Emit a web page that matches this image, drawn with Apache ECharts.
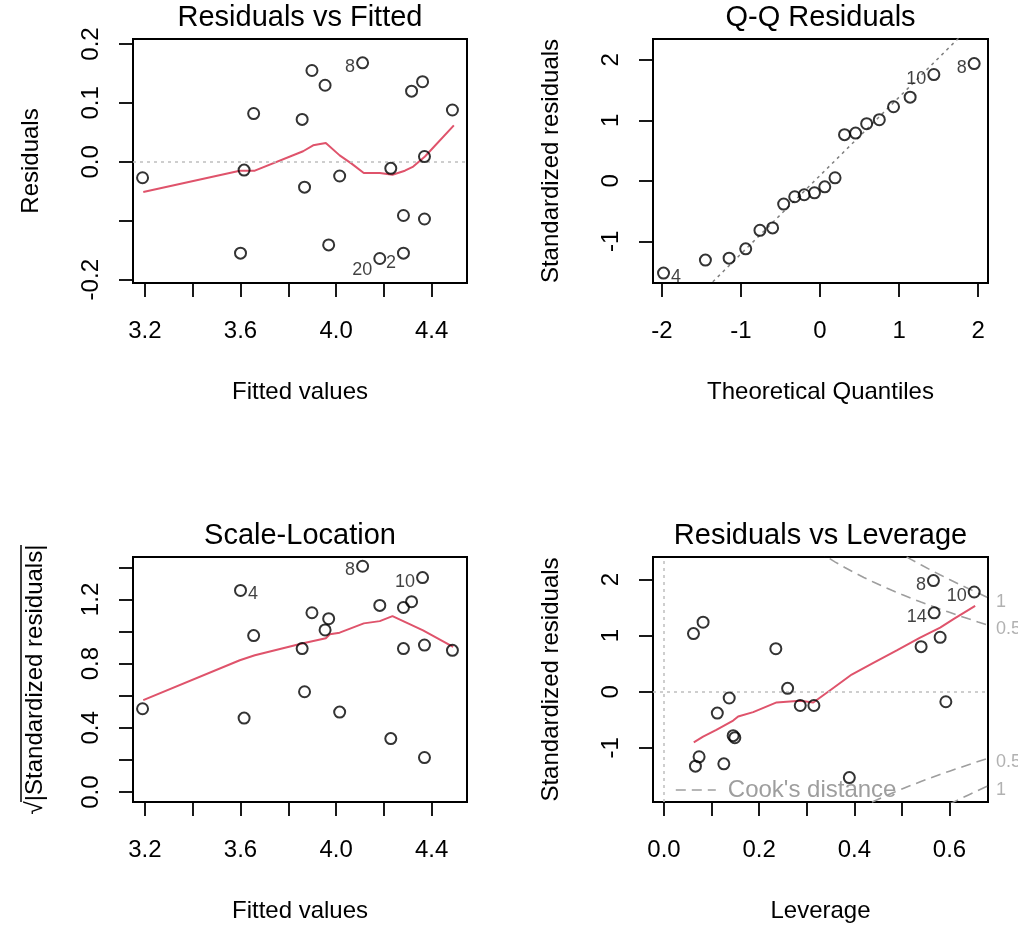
<!DOCTYPE html>
<html>
<head>
<meta charset="utf-8">
<title>lm diagnostics</title>
<script src="https://cdn.jsdelivr.net/npm/echarts@6/dist/echarts.min.js"></script>
<style>
  html, body { margin: 0; padding: 0; background: #fff; }
  #chart { width: 1018px; height: 926px; }
</style>
</head>
<body>
<div id="chart"></div>
<script>
// values
const fitted = [3.19, 3.60, 3.615, 3.655, 3.858, 3.868, 3.899, 3.954, 3.969, 4.015, 4.111, 4.183, 4.229, 4.282, 4.282, 4.316, 4.362, 4.37, 4.37, 4.487]
const residuals = [-0.027, -0.155, -0.014, 0.082, 0.072, -0.043, 0.155, 0.130, -0.141, -0.024, 0.168, -0.164, -0.011, -0.091, -0.155, 0.120, 0.136, 0.009, -0.097, 0.088]
const sqrtStdResid = [0.519, 1.256, 0.461, 0.975, 0.894, 0.625, 1.117, 1.01, 1.08, 0.498, 1.407, 1.163, 0.333, 1.15, 0.894, 1.186, 1.336, 0.215, 0.916, 0.883]

const qqTheo = [-1.98, -1.45, -1.15, -0.94, -0.76, -0.60, -0.46, -0.32, -0.20, -0.07, 0.06, 0.19, 0.31, 0.45, 0.59, 0.75, 0.93, 1.14, 1.44, 1.95]
const qqStd = [-1.526, -1.311, -1.279, -1.125, -0.818, -0.779, -0.384, -0.263, -0.23, -0.198, -0.099, 0.05, 0.764, 0.79, 0.945, 1.011, 1.225, 1.384, 1.758, 1.939]
const qqLineEnds = [[-2.3, -2.893], [2.3, 3.069]]

const leverage = [0.0619, 0.0821, 0.066, 0.0737, 0.112, 0.1257, 0.137, 0.1453, 0.1488, 0.235, 0.2598, 0.2863, 0.315, 0.3895, 0.5404, 0.5663, 0.5678, 0.5804, 0.5924, 0.652]
const stdResid = [1.036, 1.239, -1.325, -1.158, -0.38, -1.284, -0.111, -0.781, -0.818, 0.767, 0.061, -0.244, -0.244, -1.528, 0.803, 1.98, 1.406, 0.97, -0.178, 1.777]

// lowess smooths (red)
const rvfSmooth = [[3.193, -0.051], [3.597, -0.015], [3.66, -0.015], [3.862, 0.018], [3.904, 0.028], [3.957, 0.032], [4.015, 0.011], [4.065, -0.003], [4.116, -0.019], [4.183, -0.019], [4.236, -0.022], [4.288, -0.015], [4.323, -0.008], [4.372, 0.009], [4.493, 0.062]]
const slSmooth = [[3.193, 0.573], [3.597, 0.821], [3.66, 0.852], [3.862, 0.927], [3.957, 0.958], [3.974, 0.983], [4.015, 0.993], [4.116, 1.051], [4.183, 1.065], [4.236, 1.096], [4.364, 1.007], [4.49, 0.904]]
const rvlSmooth = [[0.0625, -0.9], [0.0821, -0.8], [0.11, -0.68], [0.1453, -0.513], [0.1558, -0.441], [0.1874, -0.363], [0.2366, -0.19], [0.2857, -0.16], [0.3137, -0.19], [0.3558, 0.068], [0.3945, 0.307], [0.44, 0.516], [0.4893, 0.737], [0.5383, 0.964], [0.5804, 1.144], [0.6084, 1.293], [0.654, 1.531]]

// Cook's distance contours
const cookH = [0.32, 0.34, 0.36, 0.38, 0.40, 0.42, 0.44, 0.46, 0.48, 0.50, 0.52, 0.54, 0.56, 0.58, 0.60, 0.62, 0.64, 0.66, 0.68]
const cookHalf = [2.525, 2.413, 2.309, 2.212, 2.121, 2.035, 1.954, 1.877, 1.803, 1.732, 1.664, 1.599, 1.535, 1.474, 1.414, 1.356, 1.299, 1.243, 1.188]
const cookOne = [3.571, 3.413, 3.266, 3.129, 3.0, 2.878, 2.763, 2.654, 2.55, 2.449, 2.353, 2.261, 2.171, 2.084, 2.0, 1.917, 1.837, 1.758, 1.680]
const cookLevels = ['1', '0.5']
const cookAty = [1.676, 1.185]

// labelled observations: [index, id]
const rvfIds = [[10, '8'], [11, '20'], [14, '2']]
const qqIds = [[0, '4'], [18, '10'], [19, '8']]
const slIds = [[1, '4'], [10, '8'], [16, '10']]
const rvlIds = [[15, '8'], [16, '14'], [19, '10']]

// axis ticks / labels
const fitTicks = [3.2, 3.4, 3.6, 3.8, 4.0, 4.2, 4.4]
const fitLabels = [3.2, 3.6, 4.0, 4.4]
const resTicks = [-0.2, -0.1, 0, 0.1, 0.2]
const resLabels = [-0.2, 0, 0.1, 0.2]
const qqXTicks = [-2, -1, 0, 1, 2]
const stdTicks = [-1, 0, 1, 2]
const slTicks = [0, 0.2, 0.4, 0.6, 0.8, 1.0, 1.2, 1.4]
const slLabels = [0, 0.4, 0.8, 1.2]
const levTicks = [0, 0.1, 0.2, 0.3, 0.4, 0.5, 0.6]
const levLabels = [0, 0.2, 0.4, 0.6]

const FONT = 'Liberation Sans, Arial, Helvetica, sans-serif'
const RED = '#DF536B'
const COOK = '#9e9e9e'
const f1 = (v) => v.toFixed(1)
const f0 = (v) => String(v)

const chart = echarts.init(document.getElementById('chart'))

function points(xs, ys, ids, nudge = {}) {
  const mid = (Math.min(...xs) + Math.max(...xs)) / 2
  return xs.map((x, i) => {
    const item = { value: [x, ys[i]] }
    const id = ids.find((d) => d[0] === i)
    if (id) {
      item.label = {
        show: true,
        formatter: id[1],
        position: x > mid ? 'left' : 'right',
        distance: 1,
        offset: [0, nudge[i] ?? 4]
      }
    }
    return item
  })
}

function xAxis(gridIndex, min, max, ticks, labels, fmt, name) {
  return {
    type: 'value', gridIndex, min, max, name,
    nameLocation: 'middle', nameGap: 97,
    nameTextStyle: { fontSize: 24, color: '#000', fontFamily: FONT },
    axisLine: { show: true, onZero: false, lineStyle: { color: '#000', width: 2 } },
    axisTick: { show: true, length: 14, customValues: ticks, lineStyle: { color: '#000', width: 1.8 } },
    axisLabel: { customValues: labels, formatter: fmt, fontSize: 24, color: '#000', margin: 36, fontFamily: FONT, hideOverlap: false },
    splitLine: { show: false }
  }
}

function yAxis(gridIndex, min, max, ticks, labels, fmt, name, nameGap = 90) {
  return {
    type: 'value', gridIndex, min, max, name,
    nameLocation: 'middle', nameGap,
    nameTextStyle: { fontSize: 24, color: '#000', fontFamily: FONT },
    axisLine: { show: true, onZero: false, lineStyle: { color: '#000', width: 2 } },
    axisTick: { show: true, length: 14, customValues: ticks, lineStyle: { color: '#000', width: 1.8 } },
    axisLabel: { customValues: labels, formatter: fmt, rotate: 90, fontSize: 24, color: '#000', margin: 30, fontFamily: FONT, hideOverlap: false },
    splitLine: { show: false }
  }
}

const dotted = { type: [3, 4], color: '#bebebe', width: 1.5 }

function scatter(i, data, lines) {
  const s = {
    type: 'scatter', xAxisIndex: i, yAxisIndex: i, data,
    symbol: 'circle', symbolSize: 11,
    itemStyle: { color: 'rgba(0,0,0,0)', borderColor: '#000', borderWidth: 2 },
    label: { fontSize: 18, color: '#111', fontFamily: FONT },
    z: 5
  }
  if (lines) {
    s.markLine = { silent: true, symbol: ['none', 'none'], label: { show: false }, lineStyle: dotted, data: lines, animation: false }
  }
  return s
}

function smooth(i, data) {
  return { type: 'line', xAxisIndex: i, yAxisIndex: i, data, symbol: 'none', lineStyle: { color: RED, width: 2 }, z: 4 }
}

const cookStyle = { type: [10, 6], color: COOK, width: 1.6 }
const cookSeries = [cookHalf, cookOne].flatMap((vals) => [1, -1].map((sign) => ({
  name: "Cook's distance",
  type: 'line', xAxisIndex: 3, yAxisIndex: 3,
  data: cookH.map((h, k) => [h, sign * vals[k]]),
  symbol: 'none', lineStyle: cookStyle, itemStyle: { color: COOK }, z: 3
})))

const cookLabelData = []
cookLevels.forEach((lv, k) => {
  cookLabelData.push({ value: [0.681, cookAty[k]], label: { formatter: lv } })
  cookLabelData.push({ value: [0.681, -cookAty[k]], label: { formatter: lv } })
})

const titleStyle = { fontSize: 29, fontWeight: 'normal', color: '#000', fontFamily: FONT }

chart.setOption({
  animation: false,
  backgroundColor: '#fff',
  title: [
    { text: 'Residuals vs Fitted', left: 300, top: 3, textAlign: 'center', padding: 0, textStyle: titleStyle },
    { text: 'Q-Q Residuals', left: 820.5, top: 3, textAlign: 'center', padding: 0, textStyle: titleStyle },
    { text: 'Scale-Location', left: 300, top: 521, textAlign: 'center', padding: 0, textStyle: titleStyle },
    { text: 'Residuals vs Leverage', left: 820.5, top: 521, textAlign: 'center', padding: 0, textStyle: titleStyle }
  ],
  legend: {
    left: 675, top: 778, padding: 0, itemWidth: 40, itemHeight: 14,
    selectedMode: false,
    data: ["Cook's distance"],
    itemStyle: { opacity: 0 },
    lineStyle: { type: [10, 6], color: COOK, width: 1.6 },
    textStyle: { fontSize: 24, color: COOK, fontFamily: FONT, padding: [0, 0, 0, 7] }
  },
  grid: [
    { left: 133, top: 39, width: 334, height: 244, show: true, borderColor: '#000', borderWidth: 2 },
    { left: 653, top: 39, width: 335, height: 244, show: true, borderColor: '#000', borderWidth: 2 },
    { left: 133, top: 557, width: 334, height: 245, show: true, borderColor: '#000', borderWidth: 2 },
    { left: 653, top: 557, width: 335, height: 245, show: true, borderColor: '#000', borderWidth: 2 }
  ],
  xAxis: [
    xAxis(0, 3.15, 4.548, fitTicks, fitLabels, f1, 'Fitted values'),
    xAxis(1, -2.113, 2.125, qqXTicks, qqXTicks, f0, 'Theoretical Quantiles'),
    xAxis(2, 3.15, 4.548, fitTicks, fitLabels, f1, 'Fitted values'),
    xAxis(3, -0.0232, 0.681, levTicks, levLabels, f1, 'Leverage')
  ],
  yAxis: [
    yAxis(0, -0.2056, 0.2085, resTicks, resLabels, f1, 'Residuals'),
    yAxis(1, -1.69, 2.346, stdTicks, stdTicks, f0, 'Standardized residuals'),
    yAxis(2, -0.062, 1.4645, slTicks, slLabels, f1, '√|Standardized residuals|', 86),
    yAxis(3, -1.963, 2.40, stdTicks, stdTicks, f0, 'Standardized residuals')
  ],
  graphic: [
    // overbar of the square root in the Scale-Location y label
    { type: 'line', shape: { x1: 21, y1: 545, x2: 21, y2: 802 }, style: { stroke: '#000', lineWidth: 1.5 }, silent: true }
  ],
  series: [
    scatter(0, points(fitted, residuals, rvfIds, { 11: 12, 14: 10 }), [{ yAxis: 0 }]),
    smooth(0, rvfSmooth),

    scatter(1, points(qqTheo, qqStd, qqIds)),
    {
      type: 'line', xAxisIndex: 1, yAxisIndex: 1, data: qqLineEnds, symbol: 'none',
      lineStyle: { type: [3, 4], color: '#7f7f7f', width: 1.5 }, z: 3
    },

    scatter(2, points(fitted, sqrtStdResid, slIds)),
    smooth(2, slSmooth),

    scatter(3, points(leverage, stdResid, rvlIds), [{ xAxis: 0 }, { yAxis: 0 }]),
    smooth(3, rvlSmooth),
    ...cookSeries,
    {
      type: 'scatter', xAxisIndex: 3, yAxisIndex: 3, data: cookLabelData,
      symbolSize: 0, clip: false, silent: true,
      label: { show: true, position: 'right', distance: 8, offset: [0, 4], fontSize: 18, color: COOK, fontFamily: FONT }
    }
  ]
})
</script>
</body>
</html>
